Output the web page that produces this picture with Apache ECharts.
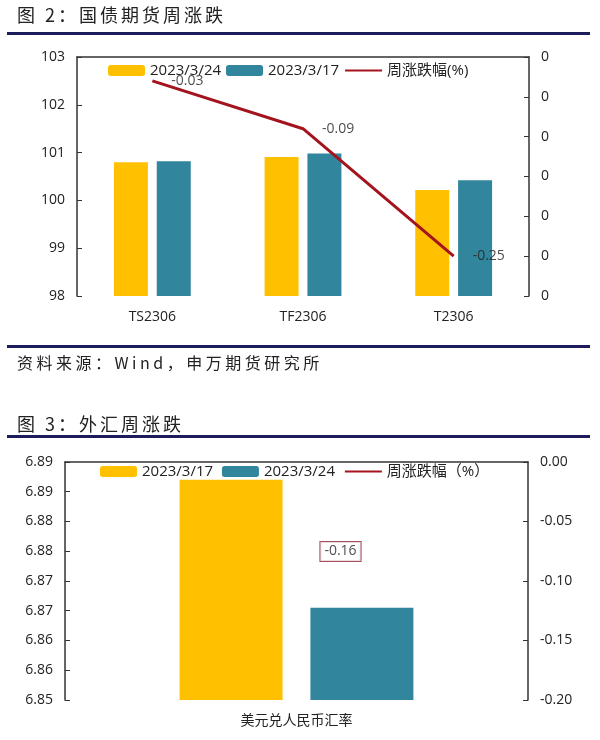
<!DOCTYPE html>
<html>
<head>
<meta charset="utf-8">
<script src="https://cdn.jsdelivr.net/npm/echarts@6/dist/echarts.min.js"></script>
<style>
  body { margin: 0; background: #ffffff; }
  .page { position: relative; width: 600px; height: 740px; overflow: hidden; }
  #chart { position: absolute; left: 0; top: 0; width: 600px; height: 740px; }
  .head {
    position: absolute;
    left: 17px;
    font-family: "Noto Sans CJK SC", sans-serif;
    color: #222;
    white-space: nowrap;
    line-height: 1;
  }
  .big { font-size: 18px; letter-spacing: 3px; }
  .src { font-size: 16px; letter-spacing: 3.5px; }
  .rule { position: absolute; left: 7px; width: 583px; height: 3px; background: #1c1b5c; }
</style>
</head>
<body>
<div class="page">
  <div id="chart"></div>
  <div class="head big" style="top:5px">图 2：国债期货周涨跌</div>
  <div class="rule" style="top:32px"></div>
  <div class="rule" style="top:345px"></div>
  <div class="head src" style="top:354px">资料来源：Wind，申万期货研究所</div>
  <div class="head big" style="top:414px">图 3：外汇周涨跌</div>
  <div class="rule" style="top:435px"></div>
</div>
<script>
// 图2 国债期货
var bondCats = ["TS2306", "TF2306", "T2306"];
var bond0324 = [100.8, 100.91, 100.22];
var bond0317 = [100.82, 100.98, 100.42];
var bondChg = [-0.03, -0.09, -0.25];

// 图3 外汇
var fxCats = ["美元兑人民币汇率"];
var fx0317 = [6.887];
var fx0324 = [6.8655];
var fxChg = [-0.16];

var yellow = "#FFC000";
var teal = "#31859C";
var red = "#A3141F";
var axisColor = "#333";
var txt = "#222";
var font = "'Open Sans', 'Noto Sans CJK SC', sans-serif";

var chartDom = document.getElementById("chart");
var myChart = echarts.init(chartDom);
var option;

function leftAxis(grid, min, max, interval, fmt) {
  return {
    type: "value",
    gridIndex: grid,
    position: "left",
    min: min,
    max: max,
    interval: interval,
    splitLine: { show: false },
    axisLine: { show: true, lineStyle: { color: axisColor, width: 1.5 } },
    axisTick: { show: true, inside: true, length: 5, lineStyle: { color: axisColor } },
    axisLabel: { color: txt, fontSize: 14, fontFamily: font, margin: 12, formatter: fmt },
  };
}
function rightAxis(grid, min, max, interval, fmt) {
  var a = leftAxis(grid, min, max, interval, fmt);
  a.position = "right";
  return a;
}
function catAxis(grid, data) {
  return {
    type: "category",
    gridIndex: grid,
    data: data,
    axisLine: { lineStyle: { color: axisColor, width: 1.5 } },
    axisTick: { show: false },
    axisLabel: { color: txt, fontSize: 14, fontFamily: font, margin: 14 },
  };
}

option = {
  backgroundColor: "#ffffff",
  animation: false,
  grid: [
    { left: 77, right: 71, top: 57, bottom: 444 },
    { left: 65, right: 72, top: 462, bottom: 40 },
  ],
  legend: [
    {
      left: 103,
      top: 58,
      itemWidth: 37,
      itemHeight: 11,
      itemGap: 5,
      textStyle: { color: txt, fontSize: 15, fontFamily: font },
      data: [
        "2023/3/24",
        "2023/3/17",
        { name: "周涨跌幅(%)", itemStyle: { opacity: 0 } },
      ],
    },
    {
      left: 95,
      top: 459,
      itemWidth: 37,
      itemHeight: 11,
      itemGap: 5,
      textStyle: { color: txt, fontSize: 15, fontFamily: font },
      data: [
        "2023/3/17 ",
        "2023/3/24 ",
        { name: "周涨跌幅（%）", itemStyle: { opacity: 0 } },
      ],
    },
  ],
  xAxis: [catAxis(0, bondCats), catAxis(1, fxCats)],
  yAxis: [
    leftAxis(0, 98, 103, 1),
    rightAxis(0, -0.3, 0, 0.05, function (v) {
      return String(Math.round(v));
    }),
    leftAxis(1, 6.85, 6.89, 0.005, function (v) {
      return (Math.round(v * 100 + 1e-6) / 100).toFixed(2);
    }),
    rightAxis(1, -0.2, 0, 0.05, function (v) {
      return v.toFixed(2);
    }),
  ],
  series: [
    {
      name: "2023/3/24",
      type: "bar",
      xAxisIndex: 0,
      yAxisIndex: 0,
      barWidth: 34,
      barGap: "26%",
      itemStyle: { color: yellow },
      data: bond0324,
    },
    {
      name: "2023/3/17",
      type: "bar",
      xAxisIndex: 0,
      yAxisIndex: 0,
      barWidth: 34,
      barGap: "26%",
      itemStyle: { color: teal },
      data: bond0317,
    },
    {
      name: "周涨跌幅(%)",
      type: "line",
      xAxisIndex: 0,
      yAxisIndex: 1,
      symbol: "none",
      lineStyle: { color: red, width: 3 },
      itemStyle: { color: red },
      data: bondChg,
      z: 5,
    },
    {
      // 只用来放数据标签
      type: "scatter",
      xAxisIndex: 0,
      yAxisIndex: 1,
      symbolSize: 0,
      label: {
        show: true,
        position: "right",
        distance: 19,
        color: txt,
        fontSize: 14,
        fontFamily: font,
      },
      data: bondChg,
      z: 6,
    },
    {
      name: "2023/3/17 ",
      type: "bar",
      xAxisIndex: 1,
      yAxisIndex: 2,
      barWidth: 103,
      barGap: "27%",
      itemStyle: { color: yellow },
      data: fx0317,
    },
    {
      name: "2023/3/24 ",
      type: "bar",
      xAxisIndex: 1,
      yAxisIndex: 2,
      barWidth: 103,
      barGap: "27%",
      itemStyle: { color: teal },
      data: fx0324,
    },
    {
      name: "周涨跌幅（%）",
      type: "line",
      xAxisIndex: 1,
      yAxisIndex: 3,
      symbol: "none",
      lineStyle: { color: red, width: 1 },
      itemStyle: { color: red },
      data: fxChg,
    },
    {
      type: "scatter",
      xAxisIndex: 1,
      yAxisIndex: 3,
      symbolSize: 0,
      label: {
        show: true,
        position: "inside",
        offset: [44, -101],
        color: txt,
        fontSize: 14,
        fontFamily: font,
        backgroundColor: "#fff",
        borderColor: "#8B2332",
        borderWidth: 1,
        padding: [3, 4, 2, 4],
      },
      data: fxChg,
      z: 6,
    },
  ],
};

myChart.setOption(option);
window.addEventListener("resize", function () {
  myChart.resize();
});
</script>
</body>
</html>
